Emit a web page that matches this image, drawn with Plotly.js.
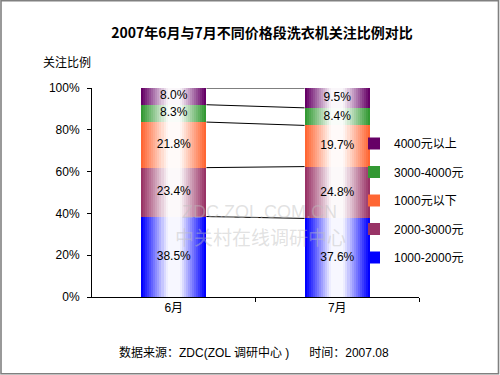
<!DOCTYPE html>
<html><head><meta charset="utf-8">
<script src="https://cdn.plot.ly/plotly-3.0.1.min.js"></script>
<style>html,body{margin:0;padding:0;background:#fff}#chart{width:500px;height:375px}</style>
</head><body><div id="chart"></div>
<script>
// ---- data ----
const months = ['6月', '7月'];
const seriesNames = ['1000-2000元', '2000-3000元', '1000元以下', '3000-4000元', '4000元以上'];
const s1000to2000 = [38.5, 37.6];
const s2000to3000 = [23.4, 24.8];
const sBelow1000 = [21.8, 19.7];
const s3000to4000 = [8.3, 8.4];
const sAbove4000 = [8.0, 9.5];
const seriesValues = [s1000to2000, s2000to3000, sBelow1000, s3000to4000, sAbove4000];
const yTickVals = [0, 20, 40, 60, 80, 100];
const yTickText = ['0%', '20%', '40%', '60%', '80%', '100%'];

// ---- styles ----
const seriesColors = ['#0000FF', '#993366', '#FF6633', '#339933', '#660066'];
const W = 500, H = 375;
const M = {l: 92, r: 81, t: 88, b: 78};
const PW = W - M.l - M.r, PH = H - M.t - M.b;
const px2x = px => (px - M.l) / PW;
const py2y = py => 1 - (py - M.t) / PH;
const BAR_W = 0.4;
const N = 16;
const FONT = 'Liberation Sans, Arial, Noto Sans CJK SC, sans-serif';

function hex2rgb(h) { return [1, 3, 5].map(i => parseInt(h.substr(i, 2), 16)); }
function mix(h, t) {
  const c = hex2rgb(h).map(v => Math.round(v + (255 - v) * t));
  return 'rgb(' + c.join(',') + ')';
}

const xIdx = months.map((_, i) => i);
const traces = [];
const bases = [];
let cum = months.map(() => 0);
seriesValues.forEach((vals, si) => {
  bases.push(cum.slice());
  for (let k = 0; k < N; k++) {
    const t = Math.min(1, (k / (N - 1)) * 1.2) * 0.97;
    traces.push({
      type: 'bar', x: xIdx, y: vals, base: cum.slice(),
      width: BAR_W * (1 - k / N),
      marker: {color: mix(seriesColors[si], t), line: {width: 0}},
      name: seriesNames[si], legendgroup: 'g' + si, legendrank: 100 - si,
      showlegend: k === 0, hoverinfo: 'skip'
    });
  }
  cum = cum.map((c, i) => c + vals[i]);
});

// series lines between bars at cumulative boundaries
const boundaries = [];
let acc = months.map(() => 0);
seriesValues.forEach(vals => {
  acc = acc.map((c, i) => c + vals[i]);
  boundaries.push(acc.slice());
});
boundaries.forEach(b => {
  traces.push({
    type: 'scatter', mode: 'lines', x: [BAR_W / 2, 1 - BAR_W / 2], y: [b[0], b[1]],
    line: {color: '#000', width: 1}, showlegend: false, hoverinfo: 'skip'
  });
});

// value labels
seriesValues.forEach((vals, si) => {
  traces.push({
    type: 'scatter', mode: 'text', x: xIdx,
    y: vals.map((v, i) => bases[si][i] + v / 2),
    text: vals.map(v => v.toFixed(1) + '%'),
    textfont: {family: FONT, size: 12, color: '#000'},
    showlegend: false, hoverinfo: 'skip'
  });
});

const layout = {
  width: W, height: H,
  margin: M,
  paper_bgcolor: '#fff', plot_bgcolor: 'rgba(0,0,0,0)',
  barmode: 'overlay', bargap: 0,
  font: {family: FONT, size: 12, color: '#000'},
  title: {text: '<b>2007年6月与7月不同价格段洗衣机关注比例对比</b>',
    xref: 'container', yref: 'container', x: 262 / W, xanchor: 'center',
    y: 1 - 33 / H, yanchor: 'middle',
    font: {family: 'Noto Sans CJK SC, sans-serif', size: 14, color: '#000'}},
  xaxis: {
    range: [-0.5, 1.5], tickmode: 'array', tickvals: xIdx, ticktext: months,
    ticks: '', showline: true, linecolor: '#000', linewidth: 1, showgrid: false, zeroline: false,
    tickfont: {family: FONT, size: 12}, fixedrange: true,
    minor: {tickmode: 'array', tickvals: [0.5, 1.5], ticks: 'outside', ticklen: 4, tickcolor: '#000', showgrid: false}
  },
  yaxis: {
    range: [0, 100], tickmode: 'array', tickvals: yTickVals, ticktext: yTickText,
    ticks: 'outside', ticklen: 4, tickcolor: '#000', showline: true, linecolor: '#000', linewidth: 1,
    showgrid: false, zeroline: false, tickfont: {family: FONT, size: 12}, fixedrange: true,
    ticklabelstandoff: 5
  },
  legend: {
    x: px2x(354), xanchor: 'left', y: py2y(129), yanchor: 'top',
    traceorder: 'reversed+grouped', tracegroupgap: 9.5,
    font: {family: FONT, size: 12}, bgcolor: 'rgba(0,0,0,0)', borderwidth: 0
  },
  annotations: [
    {text: '关注比例', xref: 'paper', yref: 'paper', x: px2x(67), y: py2y(63),
      xanchor: 'center', yanchor: 'middle', showarrow: false, font: {size: 12}},
    {text: '数据来源：ZDC(ZOL 调研中心 )      时间：2007.08', xref: 'paper', yref: 'paper',
      x: px2x(254), y: py2y(352), xanchor: 'center', yanchor: 'middle', showarrow: false, font: {size: 12}},
    {text: 'ZDC.ZOL.COM.CN', xref: 'paper', yref: 'paper', x: px2x(259), y: py2y(212),
      xanchor: 'center', yanchor: 'middle', showarrow: false,
      font: {family: 'Liberation Sans, Arial, sans-serif', size: 18, color: 'rgba(190,190,190,0.45)'}},
    {text: '中关村在线调研中心', xref: 'paper', yref: 'paper', x: px2x(260), y: py2y(236),
      xanchor: 'center', yanchor: 'middle', showarrow: false,
      font: {family: 'Noto Sans CJK SC, sans-serif', size: 19, color: 'rgba(190,190,190,0.45)'}}
  ],
  shapes: [
    {type: 'rect', xref: 'paper', yref: 'paper', x0: px2x(1), x1: px2x(498.5), y0: py2y(0.7), y1: py2y(373.7),
      line: {color: '#808080', width: 1.6}, fillcolor: 'rgba(0,0,0,0)', layer: 'above'}
  ],
  showlegend: true
};

Plotly.newPlot('chart', traces, layout, {staticPlot: true, displayModeBar: false});
</script></body></html>
